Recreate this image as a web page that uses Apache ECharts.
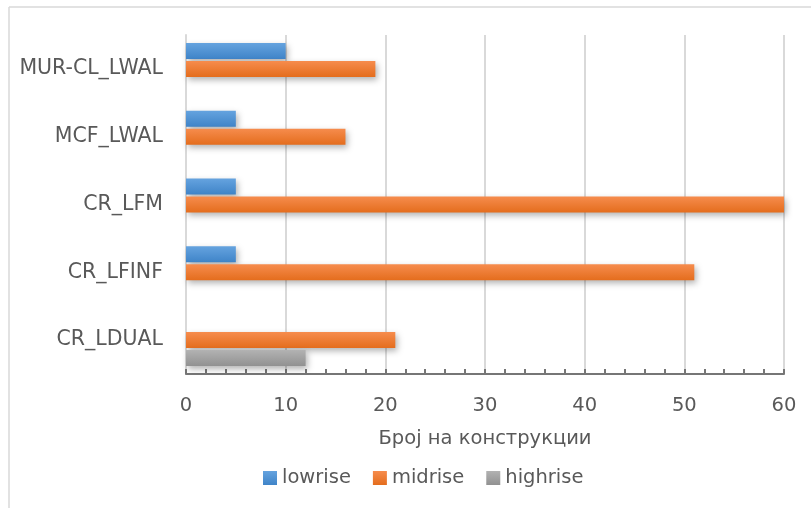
<!DOCTYPE html>
<html>
<head>
<meta charset="utf-8">
<script src="https://cdn.jsdelivr.net/npm/echarts@6/dist/echarts.min.js"></script>
<style>html,body{margin:0;padding:0;background:#fff}#c{width:811px;height:508px}</style>
</head>
<body>
<div id="c"></div>
<script>
const categories = ['CR_LDUAL', 'CR_LFINF', 'CR_LFM', 'MCF_LWAL', 'MUR-CL_LWAL'];
const lowrise = [0, 5, 5, 5, 10];
const midrise = [21, 51, 60, 16, 19];
const highrise = [12, 0, 0, 0, 0];
const seriesNames = ['lowrise', 'midrise', 'highrise'];
const xTicks = [0, 10, 20, 30, 40, 50, 60];
const axisTitle = 'Број на конструкции';

const FONT = 'DejaVu Sans';
function grad(top, bottom) {
  return new echarts.graphic.LinearGradient(0, 0, 0, 1, [
    { offset: 0, color: top }, { offset: 1, color: bottom }
  ]);
}
const styles = [
  grad('#65a3df', '#3f84c8'),
  grad('#f68c4d', '#e46d1d'),
  grad('#b2b2b2', '#919191')
];
const values = [lowrise, midrise, highrise];

const chart = echarts.init(document.getElementById('c'), null, { renderer: 'canvas' });
chart.setOption({
  animation: false,
  backgroundColor: '#fff',
  textStyle: { fontFamily: FONT },
  grid: { left: 186, right: 27, top: 35, bottom: 134, containLabel: false },
  legend: {
    data: seriesNames,
    bottom: 15,
    left: 258,
    itemWidth: 14,
    itemHeight: 14,
    itemGap: 22,
    icon: 'rect',
    textStyle: { fontFamily: FONT, fontSize: 19.5, color: '#595959' }
  },
  xAxis: {
    type: 'value',
    min: xTicks[0],
    max: xTicks[xTicks.length - 1],
    interval: 10,
    name: axisTitle,
    nameLocation: 'middle',
    nameGap: 55,
    nameTextStyle: { fontFamily: FONT, fontSize: 19.5, color: '#595959' },
    axisLine: { show: true, lineStyle: { color: '#767676', width: 2 } },
    axisTick: { show: true, inside: true, length: 5, lineStyle: { color: '#767676', width: 2 } },
    minorTick: { show: true, splitNumber: 5, length: 5, lineStyle: { color: '#767676', width: 2 } },
    axisLabel: { fontFamily: FONT, fontSize: 19.5, color: '#595959', margin: 22 },
    splitLine: { show: true, lineStyle: { color: '#d9d9d9', width: 2 } }
  },
  yAxis: {
    type: 'category',
    data: categories,
    axisLine: { show: true, lineStyle: { color: '#d9d9d9', width: 2 } },
    axisTick: { show: false },
    axisLabel: { fontFamily: FONT, fontSize: 20.5, color: '#595959', margin: 23 }
  },
  series: seriesNames.map((n, i) => ({
    name: n,
    type: 'bar',
    data: values[i],
    barWidth: 16,
    barGap: '12.5%',
    itemStyle: {
      color: styles[i],
      shadowBlur: 6,
      shadowOffsetX: 2,
      shadowOffsetY: 3,
      shadowColor: 'rgba(0,0,0,0.3)'
    }
  })),
  graphic: [
    { type: 'line', shape: { x1: 9, y1: 7, x2: 811, y2: 7 }, style: { stroke: '#d9d9d9', lineWidth: 1.5 }, silent: true },
    { type: 'line', shape: { x1: 9, y1: 7, x2: 9, y2: 508 }, style: { stroke: '#d9d9d9', lineWidth: 1.5 }, silent: true }
  ]
});
</script>
</body>
</html>
